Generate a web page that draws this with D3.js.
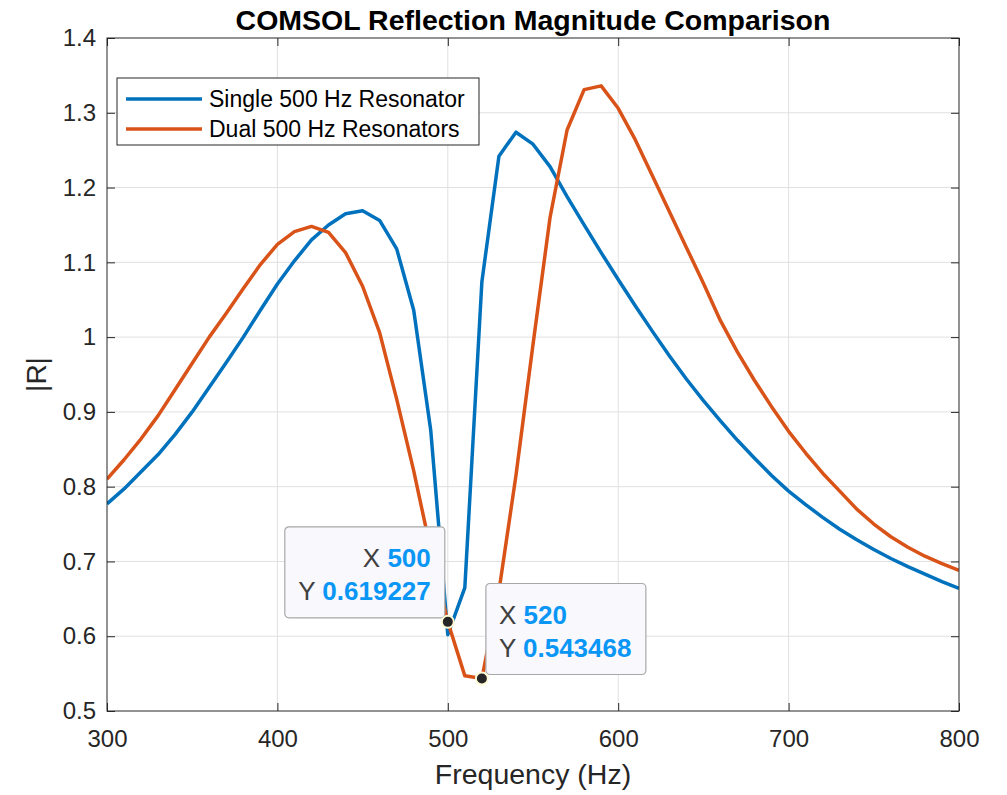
<!DOCTYPE html>
<html>
<head>
<meta charset="utf-8">
<script src="https://cdn.jsdelivr.net/npm/d3@7"></script>
<style>
  body { margin: 0; background: #fff; }
  svg { display: block; font-family: "Liberation Sans", Arial, Helvetica, sans-serif; }
</style>
</head>
<body>
<div id="chart"></div>
<script>
// frequency axis (Hz)
const freqs = [300, 310, 320, 330, 340, 350, 360, 370, 380, 390,
               400, 410, 420, 430, 440, 450, 460, 470, 480, 490,
               500, 510, 520, 530, 540, 550, 560, 570, 580, 590,
               600, 610, 620, 630, 640, 650, 660, 670, 680, 690,
               700, 710, 720, 730, 740, 750, 760, 770, 780, 790, 800];

// |R| single resonator
const singleR = [0.777, 0.797, 0.820, 0.843, 0.870, 0.900, 0.933, 0.966, 1.000, 1.036,
                 1.071, 1.102, 1.130, 1.150, 1.165, 1.169, 1.156, 1.118, 1.036, 0.875,
                 0.602, 0.665, 1.074, 1.242, 1.274, 1.258, 1.228, 1.188, 1.150, 1.113,
                 1.077, 1.042, 1.008, 0.975, 0.944, 0.915, 0.888, 0.862, 0.838, 0.815,
                 0.794, 0.776, 0.759, 0.743, 0.729, 0.716, 0.704, 0.693, 0.683, 0.673, 0.664];

// |R| dual resonators
const dualR = [0.810, 0.836, 0.864, 0.895, 0.930, 0.965, 1.000, 1.032, 1.065, 1.097,
               1.124, 1.141, 1.148, 1.140, 1.113, 1.068, 1.006, 0.917, 0.821, 0.715,
               0.619227, 0.547, 0.543468, 0.660, 0.815, 0.990, 1.160, 1.277, 1.331, 1.336,
               1.306, 1.264, 1.216, 1.168, 1.120, 1.072, 1.022, 0.980, 0.942, 0.907,
               0.874, 0.845, 0.818, 0.794, 0.770, 0.750, 0.733, 0.719, 0.707, 0.697, 0.688];

const seriesNames = ["Single 500 Hz Resonator", "Dual 500 Hz Resonators"];
const seriesColors = ["#0072BD", "#D95319"];

const xTicks = [300, 400, 500, 600, 700, 800];
const yTicks = [0.5, 0.6, 0.7, 0.8, 0.9, 1.0, 1.1, 1.2, 1.3, 1.4];

// data tips on the dual curve
const tipFreqs = [500, 520];

const W = 1007, H = 795;
const margin = { top: 38, right: 48, bottom: 84, left: 107 };
const width = W - margin.left - margin.right;
const height = H - margin.top - margin.bottom;
const axisColor = "#262626";

const svg = d3.select("#chart").append("svg")
  .attr("width", W)
  .attr("height", H);

const g = svg.append("g")
  .attr("transform", `translate(${margin.left},${margin.top})`);

const x = d3.scaleLinear().domain([300, 800]).range([0, width]);
const y = d3.scaleLinear().domain([0.5, 1.4]).range([height, 0]);

// grid
g.append("g").selectAll("line.gx")
  .data(xTicks.slice(1, -1))
  .enter().append("line")
  .attr("x1", d => x(d)).attr("x2", d => x(d))
  .attr("y1", 0).attr("y2", height)
  .attr("stroke", "#e0e0e0").attr("stroke-width", 1);

g.append("g").selectAll("line.gy")
  .data(yTicks.slice(1, -1))
  .enter().append("line")
  .attr("x1", 0).attr("x2", width)
  .attr("y1", d => y(d)).attr("y2", d => y(d))
  .attr("stroke", "#e0e0e0").attr("stroke-width", 1);

// axes (MATLAB style: ticks inside, box on)
const fmt = d => String(+d.toFixed(1));

const styleAxis = sel => {
  sel.select(".domain").remove();
  sel.selectAll(".tick line").attr("stroke", axisColor);
  sel.selectAll(".tick text").attr("fill", axisColor).style("font-size", "24px");
};

g.append("g")
  .attr("transform", `translate(0,${height})`)
  .call(d3.axisBottom(x).tickValues(xTicks).tickSize(-8).tickPadding(19).tickFormat(d3.format("d")))
  .call(styleAxis);

g.append("g")
  .call(d3.axisLeft(y).tickValues(yTicks).tickSize(-8).tickPadding(11).tickFormat(fmt))
  .call(styleAxis);

g.append("g")
  .call(d3.axisTop(x).tickValues(xTicks).tickSize(-8).tickFormat(""))
  .call(styleAxis);

g.append("g")
  .attr("transform", `translate(${width},0)`)
  .call(d3.axisRight(y).tickValues(yTicks).tickSize(-8).tickFormat(""))
  .call(styleAxis);

// clip for curves
svg.append("defs").append("clipPath").attr("id", "plotClip")
  .append("rect").attr("width", width).attr("height", height);

const line = d3.line()
  .x(d => x(d[0]))
  .y(d => y(d[1]));

const seriesData = [singleR, dualR].map(vals => freqs.map((f, i) => [f, vals[i]]));

g.append("g").attr("clip-path", "url(#plotClip)")
  .selectAll("path.series")
  .data(seriesData)
  .enter().append("path")
  .attr("class", "series")
  .attr("d", line)
  .attr("fill", "none")
  .attr("stroke", (d, i) => seriesColors[i])
  .attr("stroke-width", 3.5)
  .attr("stroke-linejoin", "round");

// box
g.append("rect")
  .attr("width", width).attr("height", height)
  .attr("fill", "none")
  .attr("stroke", axisColor).attr("stroke-width", 1);

// legend
const legend = g.append("g").attr("transform", "translate(10,40)");
legend.append("rect")
  .attr("width", 362).attr("height", 67)
  .attr("fill", "#fff")
  .attr("stroke", axisColor).attr("stroke-width", 1);

seriesNames.forEach((name, i) => {
  const ly = 21 + i * 30;
  legend.append("line")
    .attr("x1", 9).attr("x2", 85)
    .attr("y1", ly).attr("y2", ly)
    .attr("stroke", seriesColors[i]).attr("stroke-width", 3.5);
  legend.append("text")
    .attr("x", 92).attr("y", ly)
    .attr("dy", "0.35em")
    .attr("fill", "#000")
    .style("font-size", "23px")
    .text(name);
});

// data tips
const tipLayout = [
  { dx: -163, dy: -95, w: 160, h: 91, anchor: "end", tx: 146 },
  { dx: 4, dy: -95, w: 160, h: 91, anchor: "start", tx: 13 }
];

tipFreqs.forEach((f, i) => {
  const idx = freqs.indexOf(f);
  const px = x(f), py = y(dualR[idx]);
  const L = tipLayout[i];
  const tip = g.append("g").attr("transform", `translate(${px + L.dx},${py + L.dy})`);
  tip.append("rect")
    .attr("width", L.w).attr("height", L.h)
    .attr("rx", 4).attr("ry", 4)
    .attr("fill", "#f8f8fd")
    .attr("stroke", "#a8a8a8").attr("stroke-width", 1.2);
  const rows = [["X", String(f)], ["Y", String(dualR[idx])]];
  rows.forEach((r, j) => {
    const t = tip.append("text")
      .attr("x", L.tx).attr("y", 31 + j * 33)
      .attr("dy", "0.35em")
      .attr("text-anchor", L.anchor)
      .style("font-size", "26px");
    t.append("tspan").attr("fill", "#404040").text(r[0] + " ");
    t.append("tspan").attr("fill", "#0a96f5").style("font-weight", "bold").text(r[1]);
  });
  g.append("circle")
    .attr("cx", px).attr("cy", py).attr("r", 6)
    .attr("fill", "#262626")
    .attr("stroke", "#fffbd6").attr("stroke-width", 2);
});

// labels
svg.append("text")
  .attr("x", margin.left + width / 2).attr("y", 30)
  .attr("text-anchor", "middle")
  .style("font-size", "28.5px").style("font-weight", "bold")
  .attr("fill", "#000")
  .text("COMSOL Reflection Magnitude Comparison");

svg.append("text")
  .attr("x", margin.left + width / 2).attr("y", 784)
  .attr("text-anchor", "middle")
  .style("font-size", "28.5px")
  .attr("fill", axisColor)
  .text("Frequency (Hz)");

svg.append("text")
  .attr("transform", `translate(46,${margin.top + height / 2}) rotate(-90)`)
  .attr("text-anchor", "middle")
  .style("font-size", "28px")
  .attr("fill", axisColor)
  .text("|R|");
</script>
</body>
</html>
